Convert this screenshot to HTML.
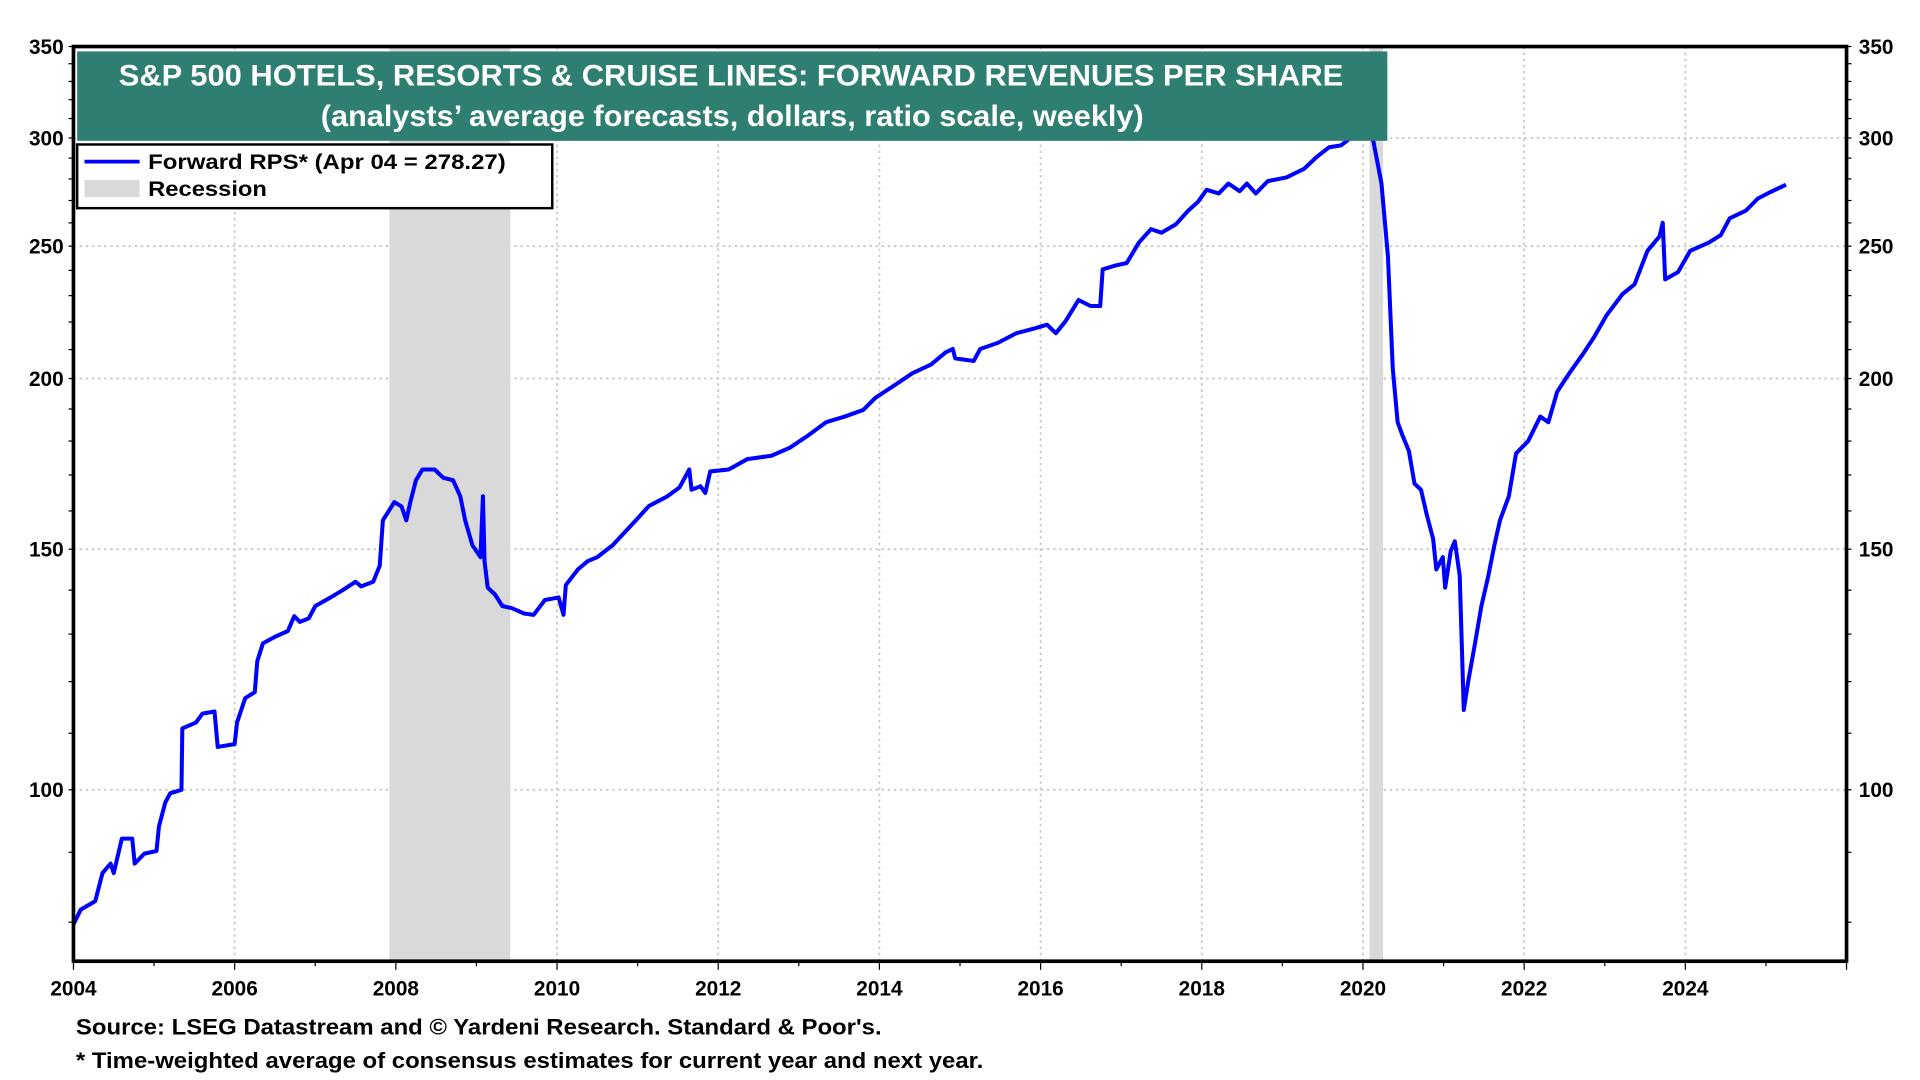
<!DOCTYPE html>
<html><head><meta charset="utf-8"><style>
html,body{margin:0;padding:0;background:#fff;}
svg{display:block;font-family:"Liberation Sans",Arial,sans-serif;font-weight:bold;}
</style></head><body>
<svg id="chart" width="1920" height="1080" viewBox="0 0 1568 882" preserveAspectRatio="none" xmlns="http://www.w3.org/2000/svg">
<g id="grid"></g>
<g id="recess"></g>
<path id="line" fill="none" stroke="#0000ff" stroke-width="3.3" stroke-linejoin="round"/>
<rect x="60" y="38" width="1448" height="747" fill="none" stroke="#000" stroke-width="3"/>
<g id="axes"></g>
<g>
<rect x="63" y="42" width="1070" height="73" fill="#2e7f72"/>
<text x="97" y="70" fill="#fff" font-size="24" textLength="1000" lengthAdjust="spacingAndGlyphs">S&amp;P 500 HOTELS, RESORTS &amp; CRUISE LINES: FORWARD REVENUES PER SHARE</text>
<text x="262" y="103" fill="#fff" font-size="24" textLength="672" lengthAdjust="spacingAndGlyphs">(analysts’ average forecasts, dollars, ratio scale, weekly)</text>
</g>
<g>
<rect x="63" y="118" width="388" height="52" fill="#fff" stroke="#000" stroke-width="2"/>
<line x1="69" y1="132" x2="114" y2="132" stroke="#0000ff" stroke-width="3"/>
<text x="121" y="138" font-size="17" textLength="292" lengthAdjust="spacingAndGlyphs">Forward RPS* (Apr 04 = 278.27)</text>
<rect x="69" y="147" width="45" height="14" fill="#d9d9d9"/>
<text x="121" y="160" font-size="17" textLength="97" lengthAdjust="spacingAndGlyphs">Recession</text>
</g>
<text x="62" y="845" font-size="18" textLength="658" lengthAdjust="spacingAndGlyphs">Source: LSEG Datastream and © Yardeni Research. Standard &amp; Poor's.</text>
<text x="62" y="872" font-size="18" textLength="741" lengthAdjust="spacingAndGlyphs">* Time-weighted average of consensus estimates for current year and next year.</text>
</svg>
<script>
const dates=[2004.0,2004.09,2004.27,2004.36,2004.46,2004.5,2004.6,2004.73,2004.76,2004.88,2005.03,2005.06,2005.14,2005.2,2005.34,2005.35,2005.52,2005.6,2005.75,2005.79,2006.0,2006.03,2006.13,2006.25,2006.28,2006.35,2006.5,2006.66,2006.74,2006.81,2006.92,2007.0,2007.19,2007.34,2007.5,2007.57,2007.72,2007.8,2007.84,2007.98,2008.07,2008.13,2008.18,2008.25,2008.33,2008.48,2008.59,2008.71,2008.8,2008.86,2008.95,2009.05,2009.08,2009.1,2009.14,2009.23,2009.32,2009.44,2009.59,2009.71,2009.85,2010.02,2010.08,2010.11,2010.26,2010.38,2010.5,2010.69,2010.91,2011.14,2011.37,2011.52,2011.64,2011.67,2011.78,2011.84,2011.9,2012.13,2012.36,2012.66,2012.89,2013.12,2013.34,2013.57,2013.8,2013.95,2014.18,2014.41,2014.64,2014.82,2014.91,2014.94,2015.17,2015.25,2015.47,2015.7,2015.93,2016.08,2016.19,2016.31,2016.47,2016.62,2016.74,2016.77,2016.92,2017.07,2017.22,2017.37,2017.5,2017.68,2017.83,2017.95,2018.06,2018.21,2018.33,2018.47,2018.56,2018.67,2018.82,2019.05,2019.27,2019.43,2019.58,2019.73,2019.88,2020.1,2020.23,2020.31,2020.37,2020.43,2020.49,2020.57,2020.64,2020.72,2020.79,2020.87,2020.91,2020.99,2021.02,2021.09,2021.14,2021.2,2021.25,2021.31,2021.39,2021.47,2021.55,2021.63,2021.7,2021.81,2021.9,2022.05,2022.2,2022.3,2022.41,2022.56,2022.72,2022.87,2023.02,2023.22,2023.37,2023.53,2023.68,2023.72,2023.75,2023.91,2024.06,2024.29,2024.44,2024.55,2024.75,2024.9,2025.05,2025.25];
const rps=[79.7,81.7,82.9,86.9,88.3,86.9,92.1,92.1,88.3,89.8,90.2,94,97.9,99.4,100,110.9,112,113.7,114.1,107.5,108,112,116.7,117.9,124.2,128,129.4,130.7,134,132.7,133.5,136.3,138.3,140,142,140.9,142,145.9,157.5,162.4,161.2,157.5,162.4,168.5,171.6,171.6,169.2,168.5,164,157.5,151,148,164,147,140.6,139,136.3,135.8,134.6,134.3,137.7,138.3,134.3,141.2,145,147,148,151,155.9,161.3,164,166.5,171.6,165.8,166.8,164.9,171,171.6,174.6,175.6,178,181.8,185.8,187.6,189.7,193.6,197.6,201.8,204.8,209,210.2,206.9,206,210.2,212.4,215.9,217.7,219,215.9,220.3,228.3,226,226,240.4,241.9,243,251.5,257.3,255.7,259.4,265.4,269.3,274.9,273.2,277.8,274.3,277.8,273.2,279,280.7,284.8,290.7,295.3,296.3,301.2,304.4,277.8,245.6,203.6,185.8,181.8,177,167.5,165.8,159.1,152.6,145,148,140.6,149.6,152,143.5,114.4,120.4,128,136.3,142.9,151,157.5,164,176.3,180,187.6,185.8,195.6,201.8,208,214.6,222.4,230.6,234.4,248,254.2,260,236.4,239.3,248,251.5,254.7,262,265.4,270.9,273.8,277.3];
const recessions=[[2007.92,2009.42],[2020.08,2020.25]];
const yTicks=[100,150,200,250,300,350];
const xTicks=[2004,2006,2008,2010,2012,2014,2016,2018,2020,2022,2024];

const L=60,R=1508,T=38,B=785,X0=2004,X1=2026,YMAX=350,YMIN=100*Math.exp(-140/484.5);
const xs=v=>L+(v-X0)/(X1-X0)*(R-L);
const ys=v=>T+(Math.log(YMAX)-Math.log(v))/(Math.log(YMAX)-Math.log(YMIN))*(B-T);
const NS='http://www.w3.org/2000/svg';
function mk(tag,attrs,parent){const e=document.createElementNS(NS,tag);for(const k in attrs)e.setAttribute(k,attrs[k]);parent.appendChild(e);return e;}
const grid=document.getElementById('grid'),axes=document.getElementById('axes'),rec=document.getElementById('recess');
recessions.forEach(r=>{const e=mk('rect',{x:xs(r[0]),y:T,width:xs(r[1])-xs(r[0]),height:B-T,fill:'#d9d9d9'},rec);

});
yTicks.forEach(v=>{const y=ys(v);
if(v<350){const g=mk('line',{x1:L,x2:R,y1:y,y2:y,stroke:'#c8c8c8','stroke-width':1.5,'stroke-dasharray':'2,3'},grid);

}
[[L-8,'end'],[R+10,'start']].forEach(p=>{const t=mk('text',{x:p[0],y:y+6,'text-anchor':p[1],'font-size':17},axes);t.textContent=v;

});});
for(let v=80;v<=350;v+=10){const y=ys(v);mk('line',{x1:L-4,x2:L,y1:y,y2:y,stroke:'#000'},axes);mk('line',{x1:R,x2:R+4,y1:y,y2:y,stroke:'#000'},axes);}
xTicks.forEach(v=>{const x=xs(v);
if(v>2004){const g=mk('line',{x1:x,x2:x,y1:T,y2:B,stroke:'#c8c8c8','stroke-width':1.5,'stroke-dasharray':'2,3'},grid);

}
const t=mk('text',{x:x,y:B+28,'text-anchor':'middle','font-size':17},axes);t.textContent=v;

});
for(let v=2004;v<=2026;v++){const x=xs(v);mk('line',{x1:x,x2:x,y1:B,y2:B+(v%2?4:7),stroke:'#000'},axes);}
document.getElementById('line').setAttribute('d',dates.map((d,i)=>(i?'L':'M')+xs(d).toFixed(1)+','+ys(rps[i]).toFixed(1)).join(''));
</script>
</body></html>
